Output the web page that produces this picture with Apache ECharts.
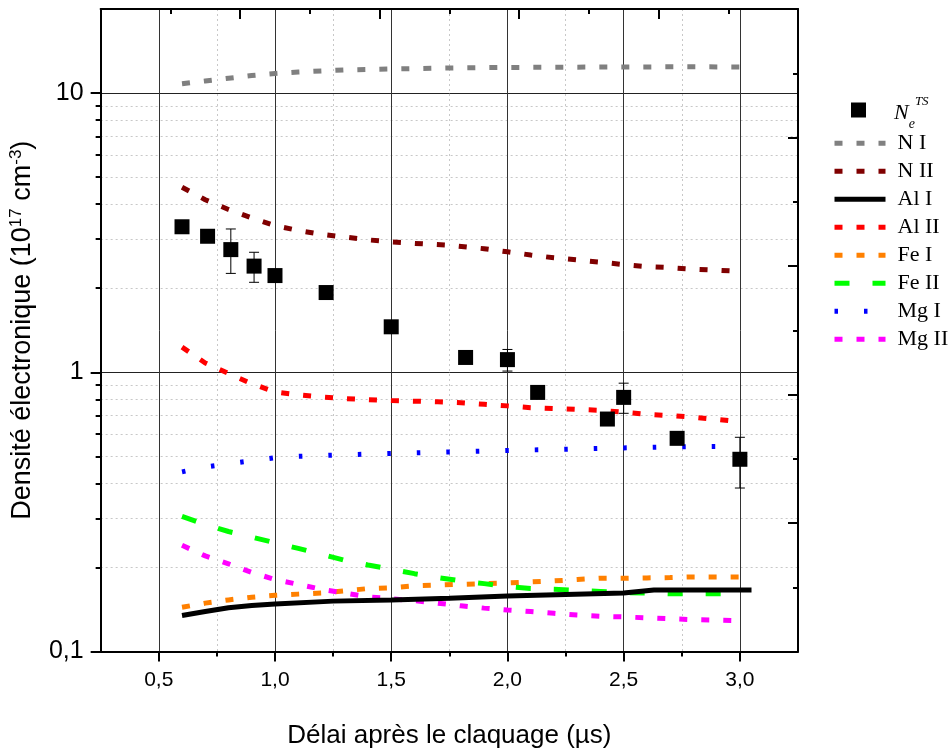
<!DOCTYPE html>
<html><head><meta charset="utf-8">
<script src="https://cdn.jsdelivr.net/npm/echarts@6/dist/echarts.min.js"></script>
<style>html,body{margin:0;padding:0;background:#fff}#c{width:949px;height:754px}</style>
</head><body><div id="c"></div>
<script>
// ---- tick values ----
const xTicks = [0.5, 1.0, 1.5, 2.0, 2.5, 3.0];
const xMinorTicks = [0.75, 1.25, 1.75, 2.25, 2.75];
const yTicks = [0.1, 1, 10];
const yMinorTicks = [0.2,0.3,0.4,0.5,0.6,0.7,0.8,0.9,2,3,4,5,6,7,8,9];

// ---- measured Ne (Thomson scattering) ----
const tsX = [0.6, 0.71, 0.81, 0.91, 1.0, 1.22, 1.5, 1.82, 2.0, 2.13, 2.43, 2.5, 2.73, 3.0];
const tsY = [3.32, 3.07, 2.75, 2.40, 2.22, 1.93, 1.455, 1.13, 1.11, 0.847, 0.68, 0.813, 0.58, 0.488];
const errX  = [0.81, 0.91, 2.0, 2.5, 3.0];
const errLo = [2.26, 2.10, 1.01, 0.713, 0.385];
const errHi = [3.26, 2.69, 1.207, 0.914, 0.585];

// ---- species curves ----
const niX = [0.6,0.7,0.8,0.9,1.0,1.1,1.2,1.3,1.5,1.75,2.0,2.25,2.5,2.75,3.0];
const niY = [10.8,11.05,11.3,11.55,11.75,11.9,12.0,12.1,12.2,12.3,12.35,12.38,12.4,12.42,12.4];

const niiX = [0.6,0.7,0.8,0.9,1.0,1.1,1.2,1.3,1.4,1.5,1.6,1.75,1.9,2.0,2.1,2.2,2.3,2.4,2.5,2.6,2.7,2.8,2.9,3.0];
const niiY = [4.6,4.15,3.83,3.57,3.35,3.22,3.12,3.05,2.98,2.93,2.895,2.85,2.77,2.70,2.63,2.57,2.525,2.48,2.43,2.39,2.37,2.34,2.32,2.30];

const aliX = [0.6,0.7,0.8,0.9,1.0,1.25,1.5,1.75,2.0,2.25,2.5,2.63,2.8,3.05];
const aliY = [0.1345,0.139,0.1434,0.146,0.148,0.1515,0.153,0.155,0.158,0.160,0.162,0.166,0.166,0.166];

const aliiX = [0.6,0.7,0.8,0.9,1.0,1.1,1.2,1.3,1.4,1.5,1.6,1.7,1.8,1.9,2.0,2.1,2.2,2.3,2.4,2.5,2.6,2.7,2.8,2.9,3.0];
const aliiY = [1.23,1.08,0.99,0.91,0.85,0.83,0.815,0.805,0.798,0.792,0.788,0.784,0.778,0.768,0.758,0.747,0.742,0.736,0.731,0.719,0.707,0.70,0.69,0.678,0.665];

const feiX = [0.6,0.7,0.8,0.9,1.0,1.1,1.2,1.3,1.4,1.5,1.6,1.7,1.8,1.9,2.0,2.1,2.2,2.3,2.4,2.5,2.6,2.7,2.8,2.9,3.02];
const feiY = [0.144,0.149,0.153,0.1565,0.159,0.1605,0.162,0.165,0.168,0.169,0.172,0.173,0.174,0.175,0.176,0.1775,0.179,0.181,0.183,0.183,0.1835,0.184,0.185,0.185,0.185];

const feiiX = [0.6,0.7,0.8,0.9,1.0,1.1,1.2,1.3,1.4,1.5,1.6,1.7,1.8,1.9,2.0,2.1,2.2,2.3,2.4,2.5,2.6,2.7,2.8,2.9,3.0];
const feiiY = [0.305,0.285,0.269,0.257,0.245,0.234,0.223,0.212,0.204,0.197,0.19,0.184,0.179,0.175,0.171,0.168,0.167,0.1655,0.164,0.1625,0.162,0.161,0.161,0.161,0.161];

const mgiX = [0.6,0.7,0.8,0.9,1.0,1.1,1.25,1.5,1.75,2.0,2.25,2.5,2.75,2.95];
const mgiY = [0.44,0.458,0.47,0.482,0.494,0.50,0.505,0.512,0.518,0.525,0.53,0.536,0.541,0.543];

const mgiiX = [0.6,0.7,0.8,0.9,1.0,1.1,1.2,1.3,1.4,1.5,1.6,1.7,1.8,1.9,2.0,2.1,2.2,2.3,2.4,2.5,2.6,2.7,2.8,2.9,3.0];
const mgiiY = [0.24,0.22,0.206,0.192,0.181,0.174,0.167,0.162,0.157,0.1545,0.152,0.149,0.1457,0.143,0.1407,0.139,0.137,0.135,0.1337,0.133,0.132,0.131,0.13,0.1295,0.129];

const pairs = (xs, ys) => xs.map((x, i) => [x, ys[i]]);
const SANS = 'Liberation Sans';
const SERIF = 'Liberation Serif';
const DASH = [8, 14];

function lineSeries(name, xs, ys, color, type, z) {
  return {
    name, type: 'line', data: pairs(xs, ys), symbol: 'none', showSymbol: false, z: z || 2,
    xAxisIndex: 0, yAxisIndex: 0,
    lineStyle: { color, width: 5, type, cap: 'butt' },
    itemStyle: { color }
  };
}

const chart = echarts.init(document.getElementById('c'), null, { renderer: 'canvas' });
const fmt = v => String(+(+v).toPrecision(3)).replace('.', ',');

chart.setOption({
  animation: false,
  backgroundColor: '#fff',
  grid: { left: 100, right: 151, top: 9, bottom: 101, containLabel: false },
  xAxis: [
    { type: 'value', min: 0.25, max: 3.25, position: 'bottom',
      name: 'Délai après le claquage (µs)', nameLocation: 'middle', nameGap: 71.5,
      nameTextStyle: { fontFamily: SANS, fontSize: 26, color: '#000' },
      axisLine: { show: true, onZero: false, lineStyle: { color: '#000', width: 2 } },
      axisTick: { show: true, customValues: xTicks, length: 10, lineStyle: { color: '#000', width: 2 } },
      axisLabel: { customValues: xTicks, formatter: v => (+v).toFixed(1).replace('.', ','),
        fontFamily: SANS, fontSize: 21, color: '#000', margin: 18 },
      splitLine: { show: true, lineStyle: { color: '#333', width: 1 } } },
    { type: 'value', min: 0.25, max: 3.25, position: 'bottom',
      axisLine: { show: false, onZero: false },
      axisTick: { show: true, customValues: xMinorTicks, length: 5, lineStyle: { color: '#000', width: 2 } },
      axisLabel: { show: false },
      splitLine: { show: true, lineStyle: { color: '#c8c8c8', width: 1, type: [2, 3] } } },
    { type: 'value', min: 0, max: 10, interval: 2, position: 'top',
      axisLine: { show: true, onZero: false, lineStyle: { color: '#000', width: 2 } },
      axisTick: { show: true, inside: true, length: 10, lineStyle: { color: '#000', width: 2 } },
      minorTick: { show: true, splitNumber: 2, length: 5, lineStyle: { color: '#000', width: 2 } },
      axisLabel: { show: false }, splitLine: { show: false } }
  ],
  yAxis: [
    { type: 'log', min: 0.1, max: 20, position: 'left', logBase: 10,
      name: 'Densité électronique (10{sup|17} cm{sup|-3})', nameLocation: 'middle', nameGap: 52,
      nameTextStyle: { fontFamily: SANS, fontSize: 27, color: '#000', lineHeight: 30,
        rich: { sup: { fontFamily: SANS, fontSize: 17, color: '#000', verticalAlign: 'top', lineHeight: 17 } } },
      axisLine: { show: true, onZero: false, lineStyle: { color: '#000', width: 2 } },
      axisTick: { show: true, customValues: yTicks, length: 10, lineStyle: { color: '#000', width: 2 } },
      axisLabel: { customValues: yTicks, formatter: fmt, fontFamily: SANS, fontSize: 25, color: '#000', margin: 17 },
      splitLine: { show: true, lineStyle: { color: '#222', width: 1 } } },
    { type: 'log', min: 0.1, max: 20, position: 'left', logBase: 10,
      axisLine: { show: false, onZero: false },
      axisTick: { show: true, customValues: yMinorTicks, length: 5, lineStyle: { color: '#000', width: 2 } },
      axisLabel: { show: false },
      splitLine: { show: true, lineStyle: { color: '#c8c8c8', width: 1, type: [2, 3] } } },
    { type: 'value', min: 0, max: 10, interval: 2, position: 'right',
      axisLine: { show: true, onZero: false, lineStyle: { color: '#000', width: 2 } },
      axisTick: { show: true, inside: true, length: 10, lineStyle: { color: '#000', width: 2 } },
      minorTick: { show: true, splitNumber: 2, length: 5, lineStyle: { color: '#000', width: 2 } },
      axisLabel: { show: false }, splitLine: { show: false } }
  ],
  legend: [
    { orient: 'vertical', left: 851, top: 95, padding: 0, itemWidth: 15, itemHeight: 15,
      data: ['NeTS'], selectedMode: false,
      formatter: () => '{n|N}{e|e}{ts|TS}',
      textStyle: { padding: [6, 0, 0, 0], rich: {
        n: { fontFamily: SERIF, fontStyle: 'italic', fontSize: 22, color: '#000', lineHeight: 36, padding: [0, 0, 0, 23] },
        e: { fontFamily: SERIF, fontStyle: 'italic', fontSize: 14, color: '#000', lineHeight: 24, verticalAlign: 'bottom' },
        ts: { fontFamily: SERIF, fontStyle: 'italic', fontSize: 13, color: '#000', lineHeight: 25, verticalAlign: 'top' }
      } } },
    { orient: 'vertical', left: 832, top: 132.3, padding: 0, itemWidth: 51, itemHeight: 15, itemGap: 6,
      selectedMode: false,
      data: ['N I', 'N II', 'Al I', 'Al II', 'Fe I', 'Fe II', 'Mg I', 'Mg II'],
      lineStyle: { width: 5 },
      itemStyle: { opacity: 0 },
      textStyle: { fontFamily: SERIF, fontSize: 22, color: '#000', lineHeight: 22, padding: [0, 0, 0, 7] } }
  ],
  series: [
    lineSeries('N I', niX, niY, '#808080', DASH),
    lineSeries('N II', niiX, niiY, '#800000', DASH),
    lineSeries('Al I', aliX, aliY, '#000000', 'solid', 4),
    lineSeries('Al II', aliiX, aliiY, '#ff0000', DASH),
    lineSeries('Fe I', feiX, feiY, '#ff8000', DASH),
    lineSeries('Fe II', feiiX, feiiY, '#00ff00', [15, 23]),
    lineSeries('Mg I', mgiX, mgiY, '#0000ff', [3.5, 26]),
    lineSeries('Mg II', mgiiX, mgiiY, '#ff00ff', DASH),
    { name: 'err', type: 'custom', xAxisIndex: 0, yAxisIndex: 0, z: 5, silent: true,
      data: errX.map((x, i) => [x, errLo[i], errHi[i]]),
      encode: { x: 0, y: [1, 2] },
      renderItem: (params, api) => {
        const x = api.value(0);
        const lo = api.coord([x, api.value(1)]);
        const hi = api.coord([x, api.value(2)]);
        const w = 5;
        const st = { stroke: '#000', lineWidth: 1 };
        return { type: 'group', children: [
          { type: 'line', shape: { x1: lo[0], y1: lo[1], x2: hi[0], y2: hi[1] }, style: st },
          { type: 'line', shape: { x1: lo[0] - w, y1: lo[1], x2: lo[0] + w, y2: lo[1] }, style: st },
          { type: 'line', shape: { x1: hi[0] - w, y1: hi[1], x2: hi[0] + w, y2: hi[1] }, style: st }
        ] };
      } },
    { name: 'NeTS', type: 'scatter', xAxisIndex: 0, yAxisIndex: 0, z: 6,
      data: pairs(tsX, tsY), symbol: 'rect', symbolSize: 15,
      itemStyle: { color: '#000', opacity: 1 } }
  ]
});
</script>
</body></html>
